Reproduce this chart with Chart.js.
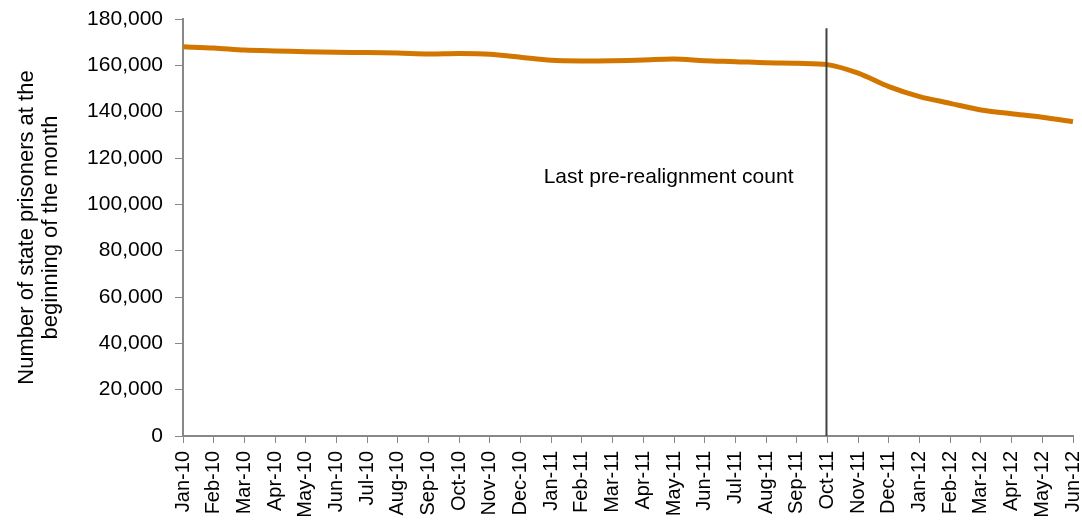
<!DOCTYPE html>
<html>
<head>
<meta charset="utf-8">
<script src="https://cdn.jsdelivr.net/npm/chart.js@4"></script>
<style>
  html, body { margin: 0; padding: 0; background: #fff; }
  #wrap { width: 1082px; height: 525px; position: relative; }
</style>
</head>
<body>
<div id="wrap"><canvas id="prisonChart"></canvas></div>
<script>
// Monthly counts of state prisoners
const months = ['Jan-10', 'Feb-10', 'Mar-10', 'Apr-10', 'May-10', 'Jun-10', 'Jul-10', 'Aug-10',
  'Sep-10', 'Oct-10', 'Nov-10', 'Dec-10', 'Jan-11', 'Feb-11', 'Mar-11', 'Apr-11', 'May-11',
  'Jun-11', 'Jul-11', 'Aug-11', 'Sep-11', 'Oct-11', 'Nov-11', 'Dec-11', 'Jan-12', 'Feb-12',
  'Mar-12', 'Apr-12', 'May-12', 'Jun-12'];
const prisoners = [168000, 167500, 166600, 166200, 165900, 165600, 165500, 165300,
  164900, 165100, 164800, 163500, 162200, 161900, 162000, 162300, 162700,
  162000, 161600, 161100, 160900, 160300, 156600, 150800, 146500, 143600,
  140700, 139100, 137600, 135700];
const yTicks = [0, 20000, 40000, 60000, 80000, 100000, 120000, 140000, 160000, 180000];
const markerMonth = 'Oct-11';
const markerLabel = 'Last pre-realignment count';

const font = 'Liberation Sans, Arial, sans-serif';

// draws the vertical marker and its label
const markerPlugin = {
  id: 'marker',
  afterDatasetsDraw(chart) {
    const ctx = chart.ctx;
    const x = chart.scales.x.getPixelForValue(months.indexOf(markerMonth)) - 1;
    const yScale = chart.scales.y;
    ctx.save();
    ctx.strokeStyle = '#404040';
    ctx.lineWidth = 2;
    ctx.beginPath();
    ctx.moveTo(x, yScale.getPixelForValue(176000));
    ctx.lineTo(x, yScale.getPixelForValue(0));
    ctx.stroke();
    ctx.fillStyle = '#000';
    ctx.font = '21px ' + font;
    ctx.textAlign = 'right';
    ctx.textBaseline = 'middle';
    ctx.fillText(markerLabel, x - 33, yScale.getPixelForValue(111800));
    ctx.restore();
  }
};

const ctx = document.getElementById('prisonChart').getContext('2d');
const prisonChart = new Chart(ctx, {
  type: 'line',
  data: {
    labels: months,
    datasets: [{
      label: 'State prisoners',
      data: prisoners,
      borderColor: '#D27600',
      borderWidth: 5,
      pointRadius: 0,
      tension: 0.3,
      fill: false
    }]
  },
  options: {
    responsive: true,
    maintainAspectRatio: false,
    animation: false,
    layout: { padding: { top: 19, right: 9, left: 0, bottom: 0 } },
    plugins: {
      legend: { display: false },
      tooltip: { enabled: false }
    },
    scales: {
      x: {
        offset: false,
        grid: { display: true, drawOnChartArea: false, color: '#888', tickLength: 7 },
        border: { color: '#888', width: 2 },
        ticks: {
          color: '#000',
          font: { family: font, size: 20 },
          minRotation: 90,
          maxRotation: 90,
          autoSkip: false,
          padding: 8
        },
        afterFit(scale) {
          scale.height = 89;
          scale.paddingLeft = 0;
          scale.paddingRight = 0;
        }
      },
      y: {
        min: 0,
        max: 180000,
        afterBuildTicks(scale) { scale.ticks = yTicks.map(v => ({ value: v })); },
        grid: { display: true, drawOnChartArea: false, color: '#888', tickLength: 8 },
        border: { color: '#888', width: 2 },
        ticks: {
          color: '#000',
          font: { family: font, size: 21 },
          padding: 12,
          callback: v => v.toLocaleString('en-US')
        },
        title: {
          display: true,
          text: ['Number of state prisoners at the', 'beginning of the month'],
          color: '#000',
          font: { family: font, size: 22, lineHeight: 1.08 },
          padding: { top: 15, bottom: 4 }
        },
        afterFit(scale) {
          scale.width = 183;
          scale.paddingTop = 0;
          scale.paddingBottom = 0;
        }
      }
    }
  },
  plugins: [markerPlugin]
});
</script>
</body>
</html>
